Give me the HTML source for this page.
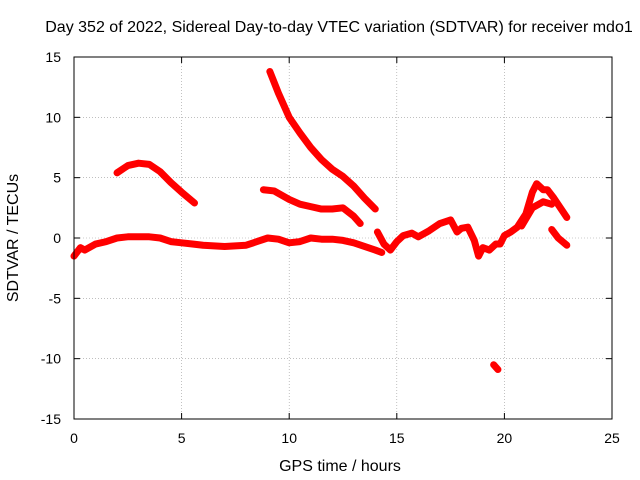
<!DOCTYPE html>
<html><head><meta charset="utf-8">
<style>
body{margin:0;background:#fff;}
svg{display:block;font-family:"Liberation Sans",sans-serif;}
</style></head>
<body>
<svg id="chart" width="640" height="480" xmlns="http://www.w3.org/2000/svg">
<rect x="0" y="0" width="640" height="480" fill="#fff"/>
<text x="339" y="32" font-size="16" text-anchor="middle">Day 352 of 2022, Sidereal Day-to-day VTEC variation (SDTVAR) for receiver mdo1</text>
<text x="340" y="471" font-size="16" text-anchor="middle">GPS time / hours</text>
<text x="18" y="238" font-size="16" text-anchor="middle" transform="rotate(-90 18 238)">SDTVAR / TECUs</text>
<g id="grid"></g>
<g id="ticks"></g>
<g id="series"></g>
<rect x="74" y="57" width="538" height="362" fill="none" stroke="#000" stroke-width="1"/>
</svg>
<script>
const xTicks=[0,5,10,15,20,25];
const yTicks=[-15,-10,-5,0,5,10,15];
const segA=[[0,-1.5],[0.3,-0.8],[0.5,-1],[1,-0.5],[1.5,-0.3],[2,0],[2.5,0.1],[3,0.1],[3.5,0.1],[4,0],[4.5,-0.3],[5,-0.4],[5.5,-0.5],[6,-0.6],[7,-0.7],[8,-0.6],[8.5,-0.3],[9,0],[9.5,-0.1],[10,-0.4],[10.5,-0.3],[11,0],[11.5,-0.1],[12,-0.1],[12.5,-0.2],[13,-0.4],[13.5,-0.7],[14,-1],[14.3,-1.2]];
const segB=[[2,5.4],[2.5,6],[3,6.2],[3.5,6.1],[4,5.5],[4.5,4.6],[5,3.8],[5.6,2.9]];
const segC=[[9.1,13.8],[9.5,12],[10,10],[10.5,8.7],[11,7.5],[11.5,6.5],[12,5.7],[12.5,5.1],[13,4.3],[13.5,3.3],[14,2.4]];
const segD=[[8.8,4],[9.3,3.9],[10,3.2],[10.5,2.8],[11,2.6],[11.5,2.4],[12,2.4],[12.5,2.5],[13,1.8],[13.3,1.2]];
const segE=[[14.1,0.5],[14.4,-0.5],[14.7,-1],[15,-0.3],[15.3,0.2],[15.7,0.4],[16,0.1],[16.5,0.6],[17,1.2],[17.5,1.5],[17.8,0.5],[18,0.8],[18.3,0.9],[18.6,-0.2],[18.8,-1.5],[19,-0.8],[19.3,-1],[19.6,-0.5],[19.8,-0.5],[20,0.2],[20.3,0.5],[20.6,0.9],[21,2],[21.3,3.8],[21.5,4.5],[21.8,4],[22,4],[22.3,3.3],[22.6,2.5],[22.9,1.7]];
const segF=[[20.8,1],[21.3,2.5],[21.8,3],[22.2,2.8]];
const segG=[[22.2,0.7],[22.5,0],[22.9,-0.6]];
const segH=[[19.5,-10.5],[19.7,-10.9]];
const segments=[segA,segB,segC,segD,segE,segF,segG,segH];
const NS='http://www.w3.org/2000/svg';
const X0=74,X1=612,Y0=419,Y1=57;
const sx=v=>X0+(v-0)/(25-0)*(X1-X0);
const sy=v=>Y0-(v+15)/30*(Y0-Y1);
function mk(tag,attrs,parent){const e=document.createElementNS(NS,tag);for(const k in attrs)e.setAttribute(k,attrs[k]);parent.appendChild(e);return e;}
const grid=document.getElementById('grid'),ticks=document.getElementById('ticks'),ser=document.getElementById('series');
xTicks.forEach(t=>{
  const x=sx(t);
  if(t>0&&t<25){const g=mk('line',{x1:x,x2:x,y1:Y1,y2:Y0,stroke:'#999','stroke-width':0.6,'stroke-dasharray':'1,2'},grid);
  
  }
  mk('line',{x1:x,x2:x,y1:Y0,y2:Y0-6,stroke:'#000'},ticks);
  mk('line',{x1:x,x2:x,y1:Y1,y2:Y1+6,stroke:'#000'},ticks);
  const l=mk('text',{x:x,y:Y0+24,'font-size':14,'text-anchor':'middle'},ticks);l.textContent=t;
  
  
});
yTicks.forEach(t=>{
  const y=sy(t);
  if(t>-15&&t<15){const g=mk('line',{x1:X0,x2:X1,y1:y,y2:y,stroke:'#999','stroke-width':0.6,'stroke-dasharray':'1,2'},grid);
  
  }
  mk('line',{x1:X0,x2:X0+6,y1:y,y2:y,stroke:'#000'},ticks);
  mk('line',{x1:X1,x2:X1-6,y1:y,y2:y,stroke:'#000'},ticks);
  const l=mk('text',{x:X0-13,y:y+5,'font-size':14,'text-anchor':'end'},ticks);l.textContent=t;
  
  
});
segments.forEach(seg=>{
  const p=mk('polyline',{points:seg.map(d=>sx(d[0])+','+sy(d[1])).join(' '),fill:'none',stroke:'#f00','stroke-width':7,'stroke-linejoin':'round','stroke-linecap':'round'},ser);
  
  
});
</script>
</body></html>
